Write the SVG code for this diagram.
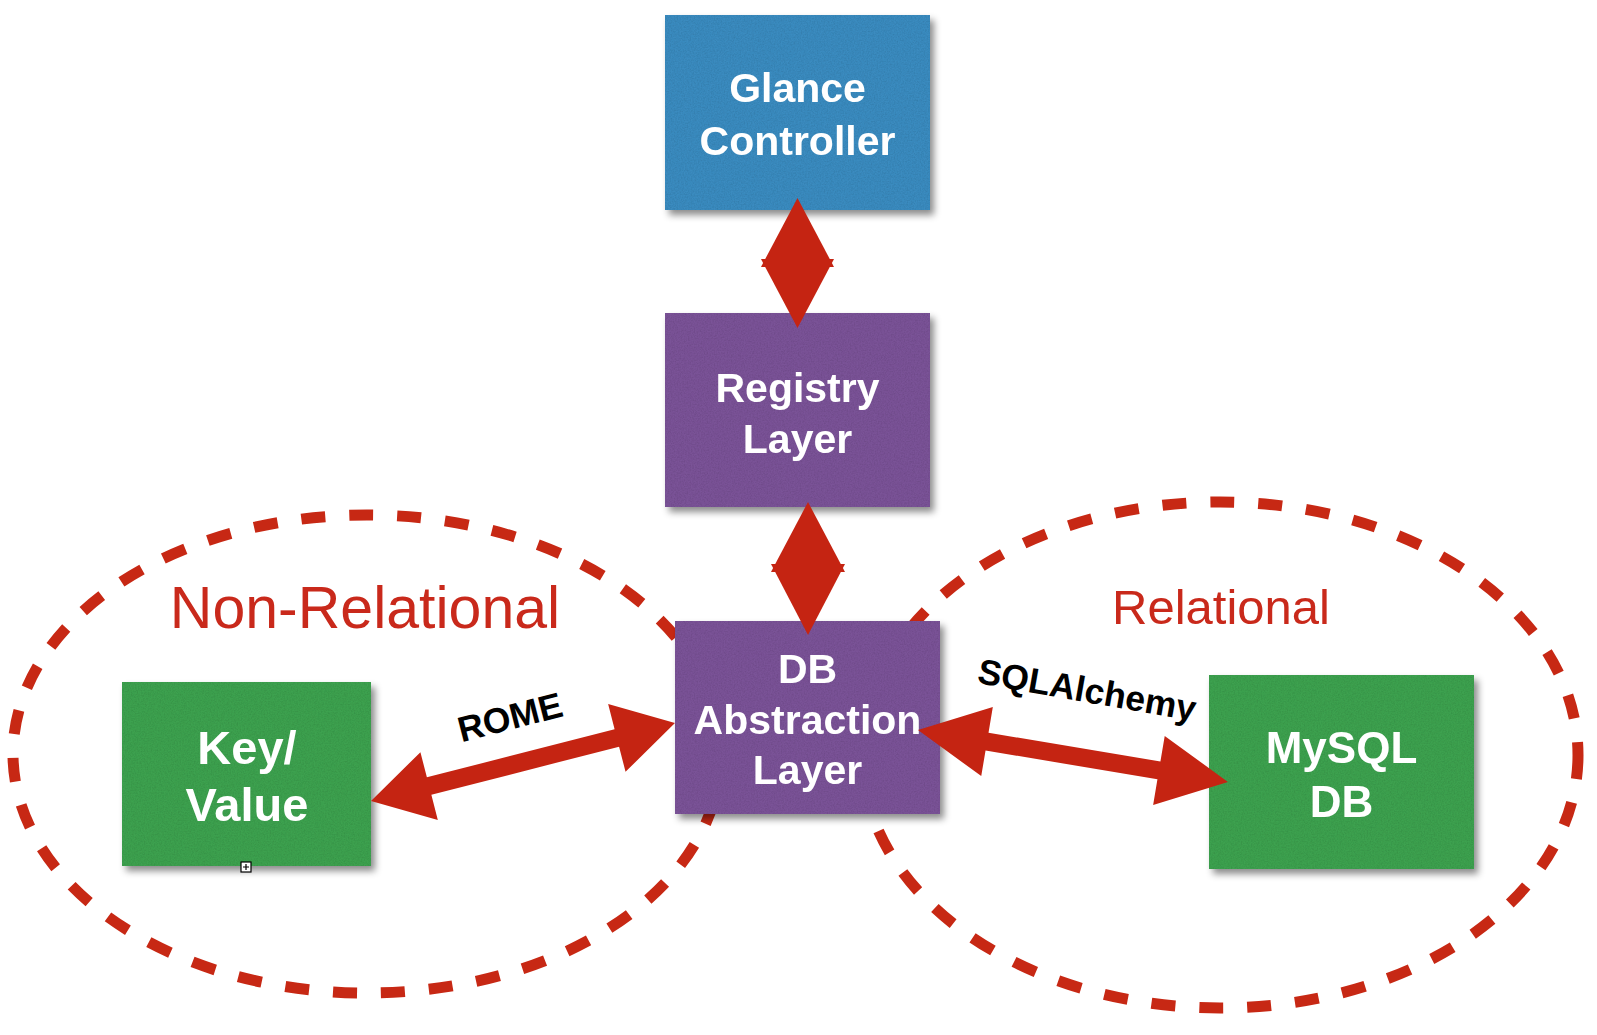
<svg xmlns="http://www.w3.org/2000/svg" width="1597" height="1035" viewBox="0 0 1597 1035">
  <defs>
    <filter id="shadow" x="-10%" y="-10%" width="125%" height="130%">
      <feDropShadow dx="4" dy="5" stdDeviation="3.5" flood-color="#000" flood-opacity="0.45"/>
    </filter>
    <filter id="paper" x="0" y="0" width="1" height="1">
      <feTurbulence type="fractalNoise" baseFrequency="0.7" numOctaves="3" seed="4" result="n"/>
      <feColorMatrix in="n" type="matrix" values="0 0 0 0 0  0 0 0 0 0  0 0 0 0 0  0.35 0 0 0 -0.12" result="a"/>
      <feComposite in="a" in2="SourceGraphic" operator="in" result="t"/>
      <feMerge><feMergeNode in="SourceGraphic"/><feMergeNode in="t"/></feMerge>
    </filter>
    <style>
      .zone { fill: none; stroke: #c72814; stroke-width: 11; stroke-dasharray: 24 24; }
      .zoneTitle { font-family: "Liberation Sans", Arial, sans-serif; font-weight: normal; fill: #c9291b; text-anchor: middle; }
      .box { filter: url(#paper); }
      .blue { fill: #3b8bbf; }
      .purple { fill: #7a5397; }
      .green { fill: #3ea14f; }
      .nodeText { font-family: "Liberation Sans", Arial, sans-serif; font-weight: bold; fill: #ffffff; text-anchor: middle; }
      .arrow { fill: #c52412; }
      .label { font-family: "Liberation Sans", Arial, sans-serif; font-weight: bold; fill: #000000; text-anchor: middle; font-size: 35.5px; }
    </style>
  </defs>

  <rect width="1597" height="1035" fill="#ffffff"/>

  <g id="zone-nonrelational">
    <ellipse class="zone" cx="367" cy="754" rx="354" ry="239"/>
    <text class="zoneTitle" x="365" y="628" font-size="59">Non-Relational</text>
  </g>
  <g id="zone-relational">
    <ellipse class="zone" cx="1220" cy="755" rx="358" ry="253"/>
    <text class="zoneTitle" x="1221" y="624" font-size="49">Relational</text>
  </g>

  <g id="node-glance" filter="url(#shadow)">
    <rect class="box blue" x="665" y="15" width="265" height="195"/>
    <text class="nodeText" x="797.5" y="102" font-size="41">Glance</text>
    <text class="nodeText" x="797.5" y="155" font-size="41">Controller</text>
  </g>

  <g id="node-registry" filter="url(#shadow)">
    <rect class="box purple" x="665" y="313" width="265" height="194"/>
    <text class="nodeText" x="797.5" y="402" font-size="41">Registry</text>
    <text class="nodeText" x="797.5" y="453" font-size="41">Layer</text>
  </g>

  <g id="node-db" filter="url(#shadow)">
    <rect class="box purple" x="675" y="621" width="265" height="193"/>
    <text class="nodeText" x="807.5" y="683" font-size="41">DB</text>
    <text class="nodeText" x="807.5" y="734" font-size="41">Abstraction</text>
    <text class="nodeText" x="807.5" y="784" font-size="41">Layer</text>
  </g>

  <g id="node-keyvalue" filter="url(#shadow)">
    <rect class="box green" x="122" y="682" width="249" height="184"/>
    <text class="nodeText" x="247" y="764" font-size="47">Key/</text>
    <text class="nodeText" x="247" y="821" font-size="47">Value</text>
  </g>
  <g id="marker-small">
    <rect x="241" y="862" width="10" height="10" fill="#ffffff" stroke="#000000" stroke-width="1.2"/>
    <path d="M246 864 V870 M243 867 H249" stroke="#000000" stroke-width="1.2" fill="none"/>
  </g>

  <g id="node-mysql" filter="url(#shadow)">
    <rect class="box green" x="1209" y="675" width="265" height="194"/>
    <text class="nodeText" x="1341.5" y="763" font-size="44">MySQL</text>
    <text class="nodeText" x="1341.5" y="817" font-size="44">DB</text>
  </g>

  <g id="connectors">
    <!-- Glance <-> Registry -->
    <polygon class="arrow" points="797.5,198 834,267 761,267"/>
    <polygon class="arrow" points="797.5,328 834,259 761,259"/>
    <!-- Registry <-> DB -->
    <polygon class="arrow" points="808,502 845,572 771,572"/>
    <polygon class="arrow" points="808,635 845,564 771,564"/>
    <!-- ROME: Key/Value <-> DB -->
    <g transform="translate(371,801) rotate(-14.39)">
      <polygon class="arrow" points="0,0 60,-35 60,-9 253.8,-9 253.8,-35 313.8,0 253.8,35 253.8,9 60,9 60,35"/>
    </g>
    <text class="label" transform="translate(513,729) rotate(-14.4)">ROME</text>
    <!-- SQLAlchemy: DB <-> MySQL -->
    <g transform="translate(918,730) rotate(9.52)">
      <polygon class="arrow" points="0,0 70,-35 70,-9 244.3,-9 244.3,-35 314.3,0 244.3,35 244.3,9 70,9 70,35"/>
    </g>
    <text class="label" transform="translate(1085,702) rotate(10)">SQLAlchemy</text>
  </g>
</svg>
